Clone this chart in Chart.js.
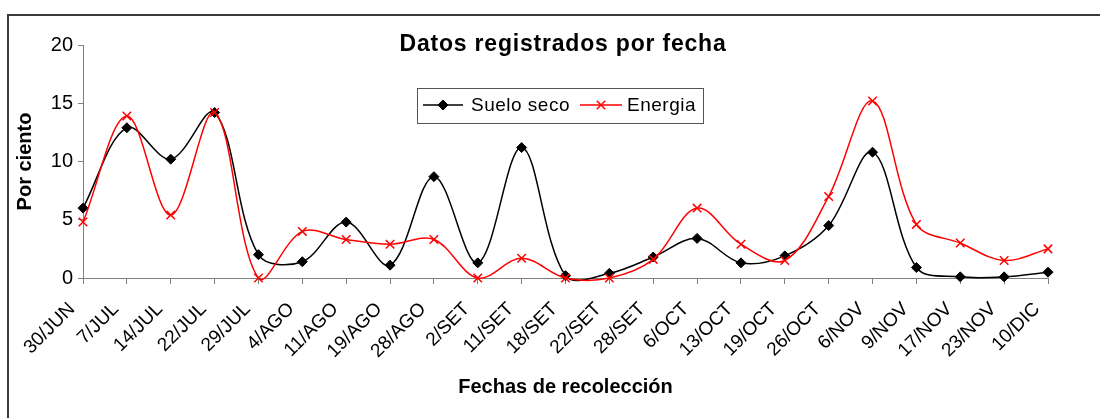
<!DOCTYPE html>
<html>
<head>
<meta charset="utf-8">
<script src="https://cdn.jsdelivr.net/npm/chart.js@4.4.1/dist/chart.umd.min.js"></script>
<style>
  html, body { margin: 0; padding: 0; background: #fff; overflow: hidden; }
  #marco { position: absolute; left: 7px; top: 14px; width: 1200px; height: 500px;
           border-top: 2px solid #3a3a3a; border-left: 2px solid #3a3a3a; }
  #caja { position: absolute; left: 0; top: 0; width: 1100px; height: 418px; }
</style>
</head>
<body>
<div id="marco"></div>
<div id="caja"><canvas id="grafico"></canvas></div>
<script>
// Datos
const fechas = ['30/JUN', '7/JUL', '14/JUL', '22/JUL', '29/JUL', '4/AGO', '11/AGO', '19/AGO',
  '28/AGO', '2/SET', '11/SET', '18/SET', '22/SET', '28/SET', '6/OCT', '13/OCT', '19/OCT',
  '26/OCT', '6/NOV', '9/NOV', '17/NOV', '23/NOV', '10/DIC'];
const sueloSeco = [6.0, 12.9, 10.2, 14.2, 2.0, 1.4, 4.8, 1.1, 8.7, 1.3, 11.2, 0.2, 0.4, 1.8,
  3.4, 1.3, 1.9, 4.5, 10.8, 0.9, 0.1, 0.1, 0.5];
const energia = [4.8, 13.9, 5.4, 14.2, 0.0, 4.0, 3.3, 2.9, 3.3, 0.0, 1.7, 0.0, 0.0, 1.6,
  6.0, 2.9, 1.5, 7.0, 15.2, 4.6, 3.0, 1.5, 2.5];
const ticksY = [0, 5, 10, 15, 20];

const titulo = 'Datos registrados por fecha';
const fuente = 'Arial, "Liberation Sans", sans-serif';

// Titulo y leyenda dibujados dentro del area, como en el original
const tituloYLeyenda = {
  id: 'tituloYLeyenda',
  afterDraw(chart) {
    const ctx = chart.ctx;
    ctx.save();
    ctx.fillStyle = '#000';
    ctx.textAlign = 'center';
    ctx.textBaseline = 'middle';
    ctx.font = 'bold 23px ' + fuente;
    ctx.letterSpacing = '0.8px';
    ctx.fillText(titulo, 563, 45);

    // caja de la leyenda
    ctx.letterSpacing = '0px';
    ctx.fillStyle = '#fff';
    ctx.fillRect(417, 88, 286, 35);
    ctx.strokeStyle = '#555';
    ctx.lineWidth = 1;
    ctx.strokeRect(417.5, 88.5, 286, 35);

    const items = [
      { x1: 423, x2: 463, tx: 471, ds: chart.data.datasets[0] },
      { x1: 580, x2: 622, tx: 627, ds: chart.data.datasets[1] }
    ];
    const y = 105;
    items.forEach(it => {
      ctx.letterSpacing = '0px';
      ctx.strokeStyle = it.ds.borderColor;
      ctx.lineWidth = it.ds.borderWidth;
      ctx.beginPath();
      ctx.moveTo(it.x1, y);
      ctx.lineTo(it.x2, y);
      ctx.stroke();
      ctx.fillStyle = it.ds.pointBackgroundColor;
      ctx.strokeStyle = it.ds.pointBorderColor;
      ctx.lineWidth = it.ds.pointBorderWidth;
      Chart.helpers.drawPoint(ctx, {
        pointStyle: it.ds.pointStyle,
        radius: it.ds.pointRadius,
        rotation: 0,
        borderWidth: it.ds.pointBorderWidth
      }, (it.x1 + it.x2) / 2, y);
      ctx.fillStyle = '#000';
      ctx.font = '19px ' + fuente;
      ctx.textAlign = 'left';
      ctx.letterSpacing = '0.5px';
      ctx.fillText(it.ds.label, it.tx, y + 1);
    });
    ctx.restore();
  }
};

new Chart(document.getElementById('grafico'), {
  type: 'line',
  data: {
    labels: fechas,
    datasets: [
      {
        label: 'Suelo seco',
        data: sueloSeco,
        borderColor: '#000',
        borderWidth: 1.5,
        pointStyle: 'rectRot',
        pointRadius: 5,
        pointHoverRadius: 5,
        pointBackgroundColor: '#000',
        pointBorderColor: '#000',
        pointBorderWidth: 1,
        tension: 0.35,
        order: 1,
        clip: false
      },
      {
        label: 'Energia',
        data: energia,
        borderColor: '#ff0000',
        borderWidth: 1.5,
        pointStyle: 'crossRot',
        pointRadius: 6,
        pointHoverRadius: 6,
        pointBackgroundColor: '#ff0000',
        pointBorderColor: '#ff0000',
        pointBorderWidth: 1.5,
        tension: 0.35,
        order: 0,
        clip: false
      }
    ]
  },
  options: {
    responsive: true,
    maintainAspectRatio: false,
    animation: false,
    elements: { line: { capBezierPoints: false } },
    layout: { padding: { left: 0, top: 45, right: 52, bottom: 0 } },
    plugins: {
      legend: { display: false },
      title: { display: false },
      tooltip: { enabled: false }
    },
    scales: {
      x: {
        type: 'category',
        offset: false,
        border: { color: '#808080', width: 1 },
        grid: { drawOnChartArea: false, color: '#808080', tickLength: 6 },
        ticks: {
          color: '#000',
          font: { family: fuente, size: 19 },
          minRotation: 45,
          maxRotation: 45,
          autoSkip: false,
          padding: 14,
          labelOffset: -11
        },
        title: {
          display: true,
          text: 'Fechas de recolección',
          color: '#000',
          font: { family: fuente, size: 20, weight: 'bold' },
          padding: { top: 0, bottom: 19 }
        },
        afterFit: s => { s.height = 140; }
      },
      y: {
        min: 0,
        max: 20,
        border: { color: '#808080', width: 1 },
        grid: { drawOnChartArea: false, color: '#808080', tickLength: 5 },
        afterBuildTicks: s => { s.ticks = ticksY.map(v => ({ value: v })); },
        ticks: {
          color: '#000',
          font: { family: fuente, size: 20 },
          padding: 5
        },
        title: {
          display: true,
          text: 'Por ciento',
          color: '#000',
          font: { family: fuente, size: 20, weight: 'bold' },
          padding: { top: 13, bottom: 0 }
        },
        afterFit: s => { s.width = 83; }
      }
    }
  },
  plugins: [tituloYLeyenda]
});
</script>
</body>
</html>
